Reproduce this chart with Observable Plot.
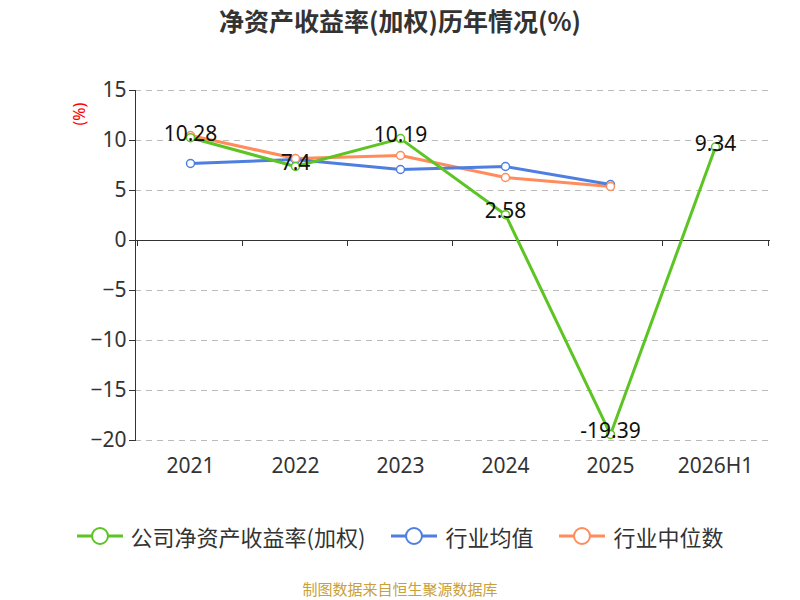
<!DOCTYPE html>
<html><head><meta charset="utf-8">
<script src="https://cdn.jsdelivr.net/npm/d3@7"></script>
<script src="https://cdn.jsdelivr.net/npm/@observablehq/plot@0.6"></script>
<style>
body{margin:0;width:800px;height:600px;background:#fff;font-family:"Noto Sans CJK SC","Noto Sans",sans-serif;}
#title{position:absolute;top:2px;width:800px;text-align:center;font-size:25px;font-weight:bold;color:#333;}
#chart{position:absolute;top:45px;left:0;}
#legend{position:absolute;top:520px;width:800px;display:flex;justify-content:center;gap:26px;font-size:22px;color:#333;}
#legend span{display:flex;align-items:center;gap:8px;}
#cap{position:absolute;top:578px;width:800px;text-align:center;font-size:15px;color:#c8a03c;}
</style></head><body>
<div id="title">净资产收益率(加权)历年情况(%)</div>
<div id="chart"></div>
<div id="legend"></div>
<div id="cap">制图数据来自恒生聚源数据库</div>
<script>
const years=["2021","2022","2023","2024","2025","2026H1"];
const company=[10.28,7.4,10.19,2.58,-19.39,9.34];
const industryAvg=[7.7,8.1,7.1,7.4,5.6];
const industryMed=[10.5,8.2,8.5,6.3,5.4];
const yTicks=[15,10,5,0,-5,-10,-15,-20];
const names=["公司净资产收益率(加权)","行业均值","行业中位数"];
const colors=["#5cc423","#4e7fe0","#ff8c5a"];

const mk=(arr,i)=>arr.map((v,j)=>({x:years[j],y:v,s:names[i]}));
const c=mk(company,0),a=mk(industryAvg,1),m=mk(industryMed,2);
const chart=Plot.plot({
  width:800,height:440,marginLeft:135,marginRight:30,marginTop:45,marginBottom:45,
  style:{fontSize:"21px",fontFamily:"Noto Sans, sans-serif",color:"#333"},
  x:{type:"point",domain:years,padding:0.5,label:null,tickSize:0,tickPadding:18},
  y:{domain:[-20,15],ticks:yTicks,label:null,tickSize:6,tickFormat:d=>d},
  marks:[
    Plot.gridY(yTicks.filter(d=>d!==0),{stroke:"#bbb",strokeOpacity:1,strokeDasharray:"6,5"}),
    Plot.ruleY([0],{stroke:"#333"}),
    Plot.ruleX(years,{x:d=>d,y1:0,y2:-0.6,stroke:"#333",dx:-53}),
    Plot.ruleX(["2026H1"],{x:d=>d,y1:0,y2:-0.6,stroke:"#333",dx:53}),
    Plot.frame({anchor:"left",stroke:"#333"}),
    Plot.axisY({ticks:yTicks,tickSize:6,label:null}),
    Plot.lineY(m,{x:"x",y:"y",stroke:colors[2],strokeWidth:3}),
    Plot.lineY(a,{x:"x",y:"y",stroke:colors[1],strokeWidth:3}),
    Plot.lineY(c,{x:"x",y:"y",stroke:colors[0],strokeWidth:3}),
    Plot.dot(a,{x:"x",y:"y",r:4,fill:"white",stroke:colors[1],strokeWidth:1.5}),
    Plot.dot(m,{x:"x",y:"y",r:4,fill:"white",stroke:colors[2],strokeWidth:1.5}),
    Plot.dot(c,{x:"x",y:"y",r:4,fill:"white",stroke:colors[0],strokeWidth:1.5}),
    Plot.text(c,{x:"x",y:"y",text:d=>String(d.y),fill:"#111",fontSize:21,dy:-3}),
    Plot.text(["(%)"],{frameAnchor:"top-left",dx:-62,dy:35,rotate:-90,fill:"red",fontSize:16})
  ]
});
document.getElementById("chart").appendChild(chart);
const lg=document.getElementById("legend");
names.forEach((n,i)=>{lg.insertAdjacentHTML("beforeend",`<span><svg width="46" height="20"><line x1="0" y1="10" x2="46" y2="10" stroke="${colors[i]}" stroke-width="3"/><circle cx="23" cy="10" r="8" fill="white" stroke="${colors[i]}" stroke-width="2"/></svg>${n}</span>`);});
</script></body></html>
